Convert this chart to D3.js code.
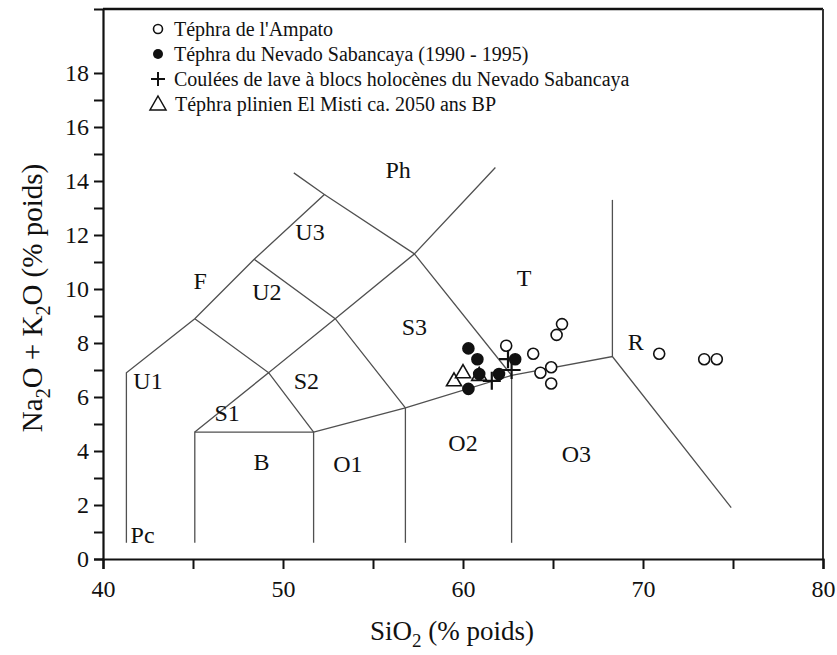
<!DOCTYPE html>
<html><head><meta charset="utf-8">
<script src="https://cdn.jsdelivr.net/npm/d3@7/dist/d3.min.js"></script>
<style>body{margin:0;background:#fff}svg{display:block}</style>
</head><body><svg id="c" width="837" height="655"></svg>
<script>
// ---- data ----
const xTicks = [40,45,50,55,60,65,70,75,80];
const xTickLabels = [40,50,60,70,80];
const yTicks = [0,1,2,3,4,5,6,7,8,9,10,11,12,13,14,15,16,17,18];
const yTickLabels = [0,2,4,6,8,10,12,14,16,18];
const ampatoSi = [62.4,63.9,64.3,64.9,64.9,65.2,65.5,70.9,73.4,74.1];
const ampatoAlk = [7.9,7.6,6.9,7.1,6.5,8.3,8.7,7.6,7.4,7.4];
const sabSi = [60.3,60.8,60.9,62.0,62.9,60.3];
const sabAlk = [7.8,7.4,6.85,6.85,7.4,6.3];
const lavaSi = [62.5,62.7,61.6];
const lavaAlk = [7.4,7.0,6.6];
const mistiSi = [60.0,59.5,60.9];
const mistiAlk = [6.9,6.6,6.8];
// TAS field boundaries as drawn (SiO2, alkali)
const boundaries = [
  [[41.3,0.6],[41.3,6.9],[45.1,8.9],[48.4,11.1],[52.3,13.5],[50.6,14.3]],
  [[45.1,0.6],[45.1,4.7],[51.7,4.7],[51.7,0.6]],
  [[51.7,4.7],[56.8,5.6],[62.7,6.8],[68.3,7.5],[74.9,1.9]],
  [[56.8,0.6],[56.8,5.6]],
  [[62.7,0.6],[62.7,6.8]],
  [[45.1,4.7],[49.2,6.9],[51.7,4.7]],
  [[45.1,8.9],[49.2,6.9],[52.9,8.9],[57.3,11.3],[62.7,6.8]],
  [[48.4,11.1],[52.9,8.9],[56.8,5.6]],
  [[52.3,13.5],[57.3,11.3],[61.8,14.5]],
  [[68.3,7.5],[68.3,13.3]]
];
const regionNames = ["Pc","B","O1","O2","O3","S1","S2","S3","T","R","U1","U2","U3","Ph","F"];
const regionSi =   [42.2,48.8,53.6,60.0,66.3,46.9,51.3,57.3,63.4,69.6,42.5,49.1,51.5,56.4,45.4];
const regionAlk =  [0.9, 3.6, 3.5, 4.3, 3.9, 5.4, 6.6, 8.6, 10.4,8.05,6.6, 9.9, 12.1,14.4,10.3];
const legendLabels = ["Téphra de l'Ampato","Téphra du Nevado Sabancaya (1990 - 1995)","Coulées de lave à blocs holocènes du Nevado Sabancaya","Téphra plinien El Misti ca. 2050 ans BP"];

// ---- chart ----
const svg = d3.select("#c");
const L=103,R=823,T=9,B=559;
const x = d3.scaleLinear().domain([40,80]).range([L,R]);
const y = d3.scaleLinear().domain([0,20.37]).range([B,T]);
const serif = "'Liberation Serif','Times New Roman',serif";

const line = d3.line().x(d=>x(d[0])).y(d=>y(d[1]));
svg.append("g").selectAll("path").data(boundaries).join("path")
  .attr("d",line).attr("fill","none").attr("stroke","#505050").attr("stroke-width",1.3);

svg.append("line").attr("x1",L).attr("x2",R).attr("y1",T).attr("y2",T).attr("stroke","#111").attr("stroke-width",2.5);
svg.append("line").attr("x1",R).attr("x2",R).attr("y1",T).attr("y2",B).attr("stroke","#333").attr("stroke-width",2);

const xAxis = d3.axisBottom(x).tickValues(xTicks).tickSize(10)
  .tickFormat(d=>xTickLabels.includes(d)?d:"");
const gx = svg.append("g").attr("transform",`translate(0,${B})`).call(xAxis);
gx.select(".domain").attr("stroke","#111").attr("stroke-width",2.2);
gx.selectAll(".tick line").attr("stroke","#111").attr("stroke-width",2);
gx.selectAll("text").attr("font-family",serif).attr("font-size",24).attr("fill","#111").attr("dy","1.05em");

const yAxis = d3.axisLeft(y).tickValues(yTicks).tickSize(9)
  .tickFormat(d=>yTickLabels.includes(d)?d:"");
const gy = svg.append("g").attr("transform",`translate(${L},0)`).call(yAxis);
gy.select(".domain").attr("stroke","#111").attr("stroke-width",2.2);
gy.selectAll(".tick line").attr("stroke","#111").attr("stroke-width",2);
gy.selectAll("text").attr("font-family",serif).attr("font-size",24).attr("fill","#111").attr("x",-14);

const xt = svg.append("text").attr("x",452).attr("y",640).attr("text-anchor","middle")
  .attr("font-family",serif).attr("font-size",27).attr("fill","#111");
xt.append("tspan").text("SiO");
xt.append("tspan").text("2").attr("font-size",19).attr("dy",7);
xt.append("tspan").text(" (% poids)").attr("dy",-7);

const yt = svg.append("text").attr("transform",`translate(42,298) rotate(-90)`).attr("text-anchor","middle")
  .attr("font-family",serif).attr("font-size",29).attr("fill","#111");
yt.append("tspan").text("Na");
yt.append("tspan").text("2").attr("font-size",20).attr("dy",8);
yt.append("tspan").text("O + K").attr("dy",-8);
yt.append("tspan").text("2").attr("font-size",20).attr("dy",8);
yt.append("tspan").text("O (% poids)").attr("dy",-8);

svg.append("g").selectAll("text").data(regionNames).join("text")
  .attr("x",(d,i)=>x(regionSi[i])).attr("y",(d,i)=>y(regionAlk[i])).attr("text-anchor","middle")
  .attr("dominant-baseline","central").attr("font-family",serif).attr("font-size",24).attr("fill","#111").text(d=>d);

const sym = svg.append("g");
function circles(xs,ys,filled){
  sym.append("g").selectAll("circle").data(xs).join("circle")
    .attr("cx",(d)=>x(d)).attr("cy",(d,i)=>y(ys[i])).attr("r",5.5)
    .attr("fill",filled?"#111":"#fff").attr("stroke","#111").attr("stroke-width",1.6);
}
function tris(xs,ys){
  sym.append("g").selectAll("path").data(xs).join("path")
    .attr("transform",(d,i)=>`translate(${x(d)},${y(ys[i])})`)
    .attr("d","M0,-8L7.5,5L-7.5,5Z").attr("fill","none").attr("stroke","#111").attr("stroke-width",1.6);
}
function crosses(xs,ys){
  sym.append("g").selectAll("path").data(xs).join("path")
    .attr("transform",(d,i)=>`translate(${x(d)},${y(ys[i])})`)
    .attr("d","M-9,0H9M0,-9V9").attr("stroke","#111").attr("stroke-width",2.2);
}
circles(ampatoSi,ampatoAlk,false);
tris(mistiSi,mistiAlk);
circles(sabSi,sabAlk,true);
crosses(lavaSi,lavaAlk);

const lg = svg.append("g").attr("font-family",serif).attr("font-size",20).attr("fill","#111");
const ly = [29,54,79,104], lx=158;
lg.append("circle").attr("cx",lx).attr("cy",ly[0]).attr("r",4.5).attr("fill","#fff").attr("stroke","#111").attr("stroke-width",1.6);
lg.append("circle").attr("cx",lx).attr("cy",ly[1]).attr("r",5).attr("fill","#111");
lg.append("path").attr("d",`M${lx-7},${ly[2]}H${lx+7}M${lx},${ly[2]-7}V${ly[2]+7}`).attr("stroke","#111").attr("stroke-width",2);
lg.append("path").attr("d",`M${lx},${ly[3]-8}L${lx+8},${ly[3]+6}L${lx-8},${ly[3]+6}Z`).attr("fill","none").attr("stroke","#111").attr("stroke-width",1.5);
lg.selectAll("text").data(legendLabels).join("text")
  .attr("x",(d,i)=>i==3?lx+17:lx+16).attr("y",(d,i)=>ly[i]).attr("dominant-baseline","central").text(d=>d);
</script></body></html>
